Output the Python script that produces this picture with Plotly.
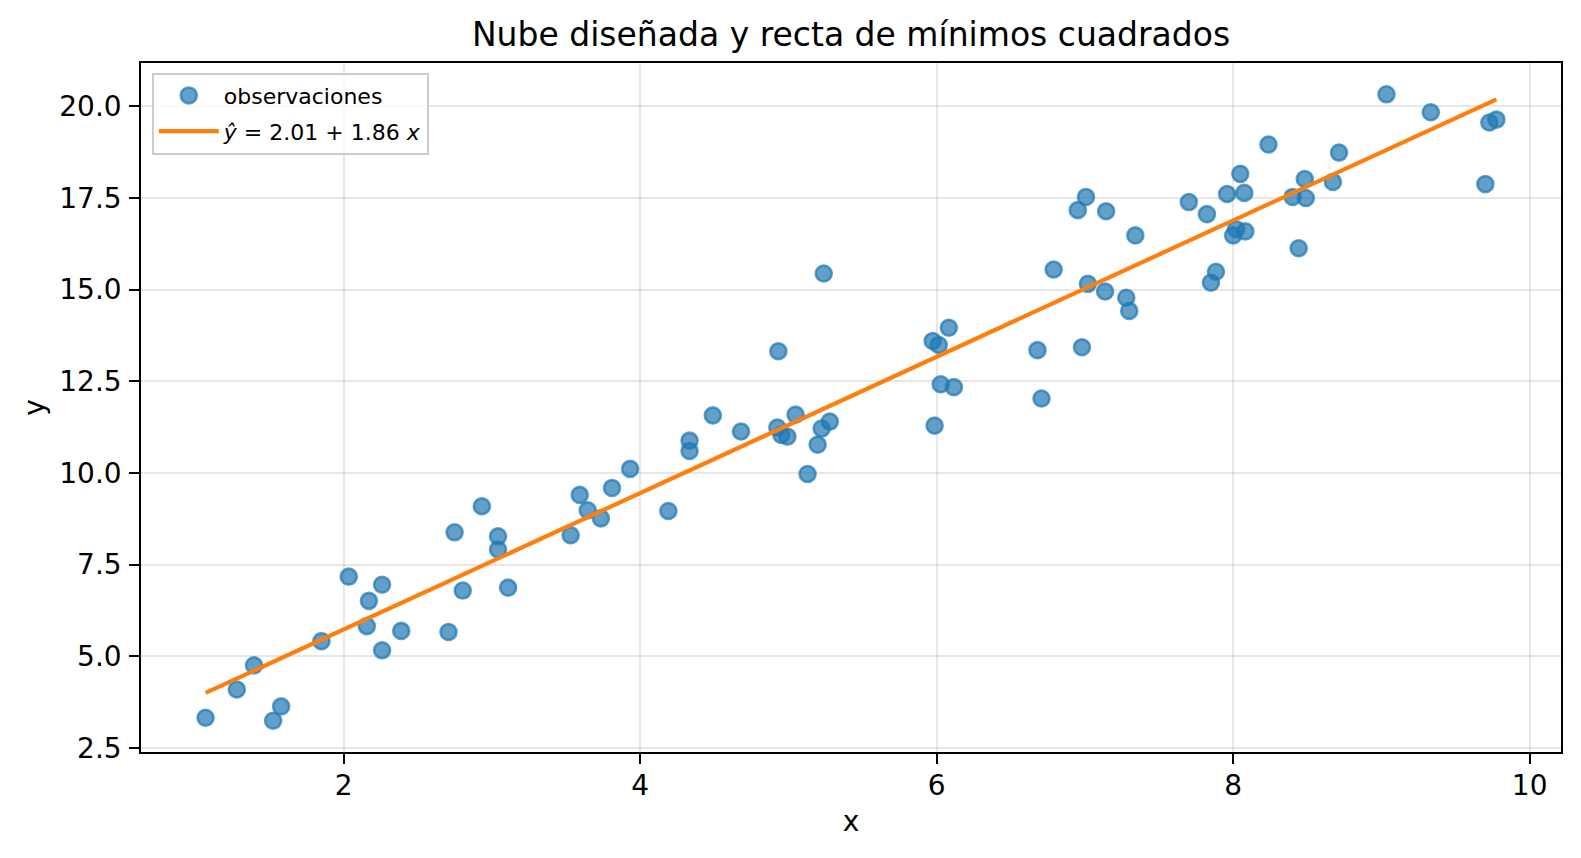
import plotly.graph_objects as go

# ---- data ----
x_obs = [1.068, 1.279, 1.395, 1.524, 1.578, 1.850, 2.034, 2.170, 2.156, 2.259,
         2.259, 2.388, 2.707, 2.748, 2.803, 2.932, 3.041, 3.041, 3.109, 3.531,
         3.592, 3.646, 3.735, 3.810, 3.932, 4.190, 4.333, 4.333, 4.490, 4.680,
         4.932, 4.925, 4.952, 4.993, 5.048, 5.129, 5.197, 5.224, 5.238, 5.279,
         5.973, 6.014, 6.082, 5.986, 6.027, 6.116, 6.680, 6.707, 6.789, 6.952,
         7.007, 6.980, 7.020, 7.143, 7.136, 7.279, 7.299, 7.340, 7.701, 7.823,
         7.850, 7.884, 7.959, 8.000, 8.020, 8.048, 8.075, 8.082, 8.238, 8.401,
         8.442, 8.483, 8.490, 8.673, 8.714, 9.034, 9.333, 9.701, 9.728, 9.776]
y_obs = [3.32, 4.09, 4.75, 3.24, 3.63, 5.41, 7.17, 6.51, 5.82, 6.95,
         5.16, 5.69, 5.66, 8.38, 6.79, 9.09, 8.27, 7.91, 6.87, 8.30,
         9.40, 8.98, 8.76, 9.59, 10.11, 8.96, 10.88, 10.60, 11.57, 11.13,
         13.32, 11.24, 11.04, 10.99, 11.59, 9.97, 10.77, 11.21, 15.44, 11.40,
         13.60, 13.49, 13.96, 11.29, 12.42, 12.34, 13.35, 12.03, 15.55, 17.17,
         17.53, 13.43, 15.16, 17.14, 14.95, 14.78, 14.42, 16.48, 17.39, 17.06,
         15.19, 15.49, 17.61, 16.48, 16.65, 18.16, 17.64, 16.59, 18.96, 17.53,
         16.13, 18.02, 17.50, 17.94, 18.74, 20.33, 19.84, 17.88, 19.56, 19.64]
intercept = 2.01
slope = 1.86

x_ticks = [2, 4, 6, 8, 10]
y_ticks = [2.5, 5.0, 7.5, 10.0, 12.5, 15.0, 17.5, 20.0]

title_text = "Nube diseñada y recta de mínimos cuadrados"
scatter_name = "observaciones"
line_name = "<i>ŷ</i> = 2.01 + 1.86 <i>x</i>"

# ---- fitted line over data span ----
x_line = [min(x_obs), max(x_obs)]
y_line = [intercept + slope * v for v in x_line]

# matplotlib-like autoscale margins (5%)
def padded(lo, hi, m=0.05):
    d = hi - lo
    return [lo - m * d, hi + m * d]

x_range = padded(min(x_obs + x_line), max(x_obs + x_line))
y_range = padded(min(y_obs + y_line), max(y_obs + y_line))

FONT = "DejaVu Sans"
blue = "rgba(31,119,180,0.7)"

fig = go.Figure()
fig.add_trace(go.Scatter(
    x=x_obs, y=y_obs, mode="markers", name=scatter_name, legendgroup="a",
    marker=dict(size=16, color=blue, line=dict(color=blue, width=2.6)),
))
fig.add_trace(go.Scatter(
    x=x_line, y=y_line, mode="lines", name=line_name, legendgroup="b",
    line=dict(color="#ff7f0e", width=4.2),
))

axis_common = dict(
    showline=True, linecolor="black", linewidth=2.2, mirror=True,
    ticks="outside", ticklen=9.7, tickwidth=2.2, tickcolor="black",
    showgrid=True, gridcolor="rgba(176,176,176,0.3)", gridwidth=2.2,
    zeroline=False, tickfont=dict(family=FONT, size=28, color="black"),
)

fig.update_layout(
    width=1581, height=858,
    margin=dict(l=141, r=20, t=63, b=106),
    paper_bgcolor="white", plot_bgcolor="white",
    font=dict(family=FONT, color="black"),
    title=dict(text=title_text, x=0.5, xref="paper", xanchor="center",
               y=1 - 34.5 / 858, yref="container", yanchor="middle",
               font=dict(family=FONT, size=33, color="black")),
    xaxis=dict(range=x_range, tickvals=x_ticks, ticktext=[str(t) for t in x_ticks],
               title=dict(text="x", font=dict(family=FONT, size=28), standoff=10),
               ticklabelstandoff=-2, **axis_common),
    yaxis=dict(range=y_range, tickvals=y_ticks, ticktext=[f"{t:.1f}" for t in y_ticks],
               title=dict(text="y", font=dict(family=FONT, size=28), standoff=6),
               ticklabelstandoff=2, **axis_common),
    legend=dict(x=0.0076, y=0.986, xanchor="left", yanchor="top",
                bgcolor="rgba(255,255,255,0.8)", bordercolor="#cccccc", borderwidth=2,
                itemwidth=60, tracegroupgap=4,
                font=dict(family=FONT, size=22, color="black")),
    showlegend=True,
)

fig.write_html("out.html")
